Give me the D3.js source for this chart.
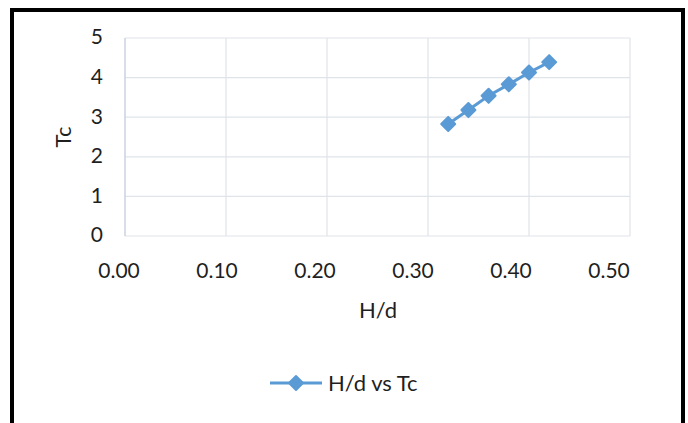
<!DOCTYPE html>
<html lang="en">
<head>
  <meta charset="utf-8" />
  <title>H/d vs Tc</title>
  <style>
    body {
      margin: 0;
      background: #fff;
      font-family: 'Lato', 'Open Sans', sans-serif;
    }
    svg { display: block; }
    .grid line { stroke: #dfe3ea; stroke-width: 1.2px; }
    .tick-label { fill: #1f1f1f; font-size: 21px; }
    .axis-title { fill: #1f1f1f; font-size: 22px; }
  </style>
</head>
<body>
<div id="chart"></div>
<script src="https://d3js.org/d3.v7.min.js"></script>
<script>
// data
const hd = [0.32, 0.34, 0.36, 0.38, 0.40, 0.42];
const tc = [2.83, 3.18, 3.54, 3.83, 4.13, 4.39];
const xTicks = [0, 0.1, 0.2, 0.3, 0.4, 0.5];
const yTicks = [0, 1, 2, 3, 4, 5];
const seriesName = "H/d vs Tc";

const W = 688, H = 423;
const plot = { left: 125, right: 630, top: 38, bottom: 236 };
const blue = "#5b9bd5";

const svg = d3.select("#chart").append("svg")
    .attr("width", W)
    .attr("height", H);

// outer black frame (bottom edge is cut off in the reference)
svg.append("path")
    .attr("d", `M12,${H + 5} V10 H683 V${H + 5}`)
    .attr("fill", "none")
    .attr("stroke", "#000")
    .attr("stroke-width", 4);

const x = d3.scaleLinear().domain([0, 0.5]).range([plot.left, plot.right]);
const y = d3.scaleLinear().domain([0, 5]).range([plot.bottom, plot.top]);
// tick labels sit a little left of their gridlines in the reference
const xLab = d3.scaleLinear().domain([0, 0.5]).range([119, 609]);

// gridlines
const grid = svg.append("g").attr("class", "grid");
grid.selectAll(".h").data(yTicks).join("line")
    .attr("x1", plot.left).attr("x2", plot.right)
    .attr("y1", d => y(d)).attr("y2", d => y(d));
grid.selectAll(".v").data(xTicks).join("line")
    .attr("y1", plot.top).attr("y2", plot.bottom)
    .attr("x1", d => x(d)).attr("x2", d => x(d));
// left axis line slightly stronger
svg.append("line")
    .attr("x1", plot.left).attr("x2", plot.left)
    .attr("y1", plot.top).attr("y2", plot.bottom)
    .attr("stroke", "#c9d3e2").attr("stroke-width", 1.2);

// tick labels
svg.selectAll(".ytl").data(yTicks).join("text")
    .attr("class", "tick-label")
    .attr("x", 103)
    .attr("y", d => y(d) - 1)
    .attr("dy", "0.35em")
    .attr("text-anchor", "end")
    .text(d => d);

svg.selectAll(".xtl").data(xTicks).join("text")
    .attr("class", "tick-label")
    .attr("x", d => xLab(d))
    .attr("y", 278)
    .attr("text-anchor", "middle")
    .text(d3.format(".2f"));

// axis titles
svg.append("text")
    .attr("class", "axis-title")
    .attr("x", 378)
    .attr("y", 318)
    .attr("text-anchor", "middle")
    .text("H/d");

svg.append("text")
    .attr("class", "axis-title")
    .attr("transform", `translate(71,${(plot.top + plot.bottom) / 2}) rotate(-90)`)
    .attr("text-anchor", "middle")
    .text("Tc");

// series
const pts = hd.map((v, i) => [v, tc[i]]);
const line = d3.line().x(d => x(d[0])).y(d => y(d[1]));

svg.append("path")
    .datum(pts)
    .attr("d", line)
    .attr("fill", "none")
    .attr("stroke", blue)
    .attr("stroke-width", 3);

const diamond = d3.symbol().type(d3.symbolDiamond2).size(125);
svg.selectAll(".pt").data(pts).join("path")
    .attr("transform", d => `translate(${x(d[0])},${y(d[1])})`)
    .attr("d", diamond)
    .attr("fill", blue)
    .attr("stroke", blue)
    .attr("stroke-width", 2)
    .attr("stroke-linejoin", "round");

// legend
const lg = svg.append("g").attr("transform", "translate(270,383)");
lg.append("line")
    .attr("x1", 0).attr("x2", 52)
    .attr("stroke", blue).attr("stroke-width", 3);
lg.append("path")
    .attr("transform", "translate(26,0)")
    .attr("d", diamond)
    .attr("fill", blue)
    .attr("stroke", blue)
    .attr("stroke-width", 2)
    .attr("stroke-linejoin", "round");
lg.append("text")
    .attr("class", "axis-title")
    .attr("x", 58)
    .attr("dy", "0.35em")
    .text(seriesName);
</script>
</body>
</html>
